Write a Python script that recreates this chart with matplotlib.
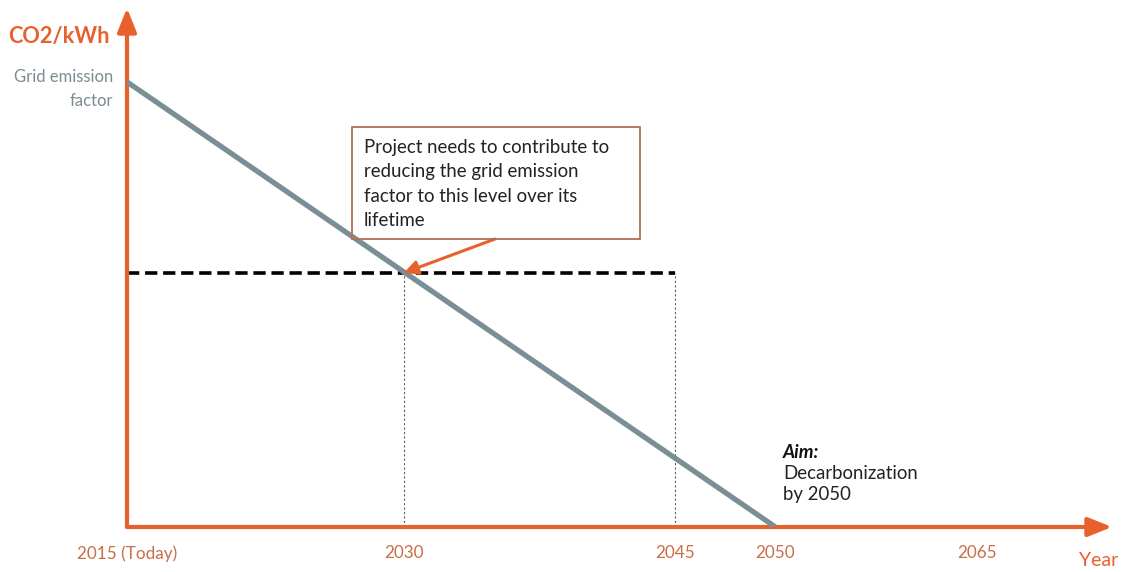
import numpy as np
import matplotlib.pyplot as plt

plt.rcParams['font.family'] = ['Lato', 'DejaVu Sans']

# schematic emission path: full grid factor today, zero at the decarbonization target
years = [2015, 2050]
emission = [1.0, 0.0]
lifetime_start = 2030
lifetime_end = 2045
target_level = 0.571

tick_years = [2015, 2030, 2045, 2050, 2065]
tick_labels = ["2015 (Today)", "2030", "2045", "2050", "2065"]

ORANGE = '#E8602C'
TICK_ORANGE = '#C96E48'
GREY_LINE = '#7A8E96'
GREY_TEXT = '#7C8B90'
BOX_EDGE = '#B36E56'

# the time axis is drawn freehand, compressed after 2050
knots_year = [2000, 2015, 2030, 2045, 2050, 2065, 2090]
knots_pos = [-15, 0, 14.94, 29.6, 35, 45.9, 64.07]


def forward(y):
    return np.interp(y, knots_year, knots_pos)


def inverse(p):
    return np.interp(p, knots_pos, knots_year)


W, H = 1123, 572
fig = plt.figure(figsize=(W / 100, H / 100), dpi=100)
ax = fig.add_axes([127 / W, (H - 527) / H, (1112 - 127) / W, (527 - 8) / H])
ax.set_xscale('function', functions=(forward, inverse))
ax.set_xlim(2015, 2075)
ax.set_ylim(0, 1.166)
for s in ax.spines.values():
    s.set_visible(False)
ax.set_yticks([])
ax.set_xticks(tick_years)
ax.set_xticklabels(tick_labels, color=TICK_ORANGE, fontsize=12.3)
ax.tick_params(axis='x', length=0, pad=13)

# axes drawn as arrows
arrow = dict(arrowstyle='-|>,head_length=0.8,head_width=0.32', color=ORANGE,
             lw=3, mutation_scale=18, shrinkA=0, shrinkB=0)
ax.annotate('', xy=(2075, 0), xytext=(2015, 0), arrowprops=arrow, annotation_clip=False)
ax.annotate('', xy=(2015, 1.166), xytext=(2015, 0), arrowprops=arrow, annotation_clip=False)

# emission path
ax.plot(years, emission, color=GREY_LINE, lw=3.8, solid_capstyle='butt', zorder=3)

# lifetime level and guides
ax.plot([2015, lifetime_end], [target_level, target_level], color='black', lw=2.6,
        dashes=[3.4, 1.6], zorder=2)
for yr in (lifetime_start, lifetime_end):
    ax.plot([yr, yr], [0, target_level], color='#5E5E5E', lw=0.8,
            dashes=[2, 2], zorder=1)

# text box with pointer
box = plt.Rectangle((352, H - 239), 288, 112, transform=None, fill=False,
                    edgecolor=BOX_EDGE, lw=1.3)
fig.patches.append(box)
fig.text(364 / W, (H - 184) / H,
         "Project needs to contribute to\nreducing the grid emission\nfactor to this level over its\nlifetime",
         ha='left', va='center', fontsize=13.4, color='#222222', linespacing=1.5)
ax.annotate('', xy=(lifetime_start, target_level), xytext=(495, H - 239),
            textcoords='figure pixels',
            arrowprops=dict(arrowstyle='-|>,head_length=0.6,head_width=0.3',
                            color=ORANGE, lw=2.2, mutation_scale=14,
                            shrinkA=0, shrinkB=0))

# axis labels
fig.text(8 / W, (H - 36) / H, "CO2/kWh", ha='left', va='center', fontsize=15.6,
         fontweight='bold', color=ORANGE)
fig.text(113 / W, (H - 89) / H, "Grid emission\nfactor", ha='right', va='center',
         fontsize=12, color=GREY_TEXT, linespacing=1.65)
fig.text(1079 / W, (H - 560) / H, "Year", ha='left', va='center', fontsize=14,
         color=ORANGE)

# target note
fig.text(783 / W, (H - 452) / H, "Aim:", ha='left', va='center', fontsize=13.4,
         fontweight='bold', fontstyle='italic', color='#111111')
fig.text(783 / W, (H - 484) / H, "Decarbonization\nby 2050", ha='left', va='center',
         fontsize=13.4, color='#222222', linespacing=1.3)

fig.savefig('out.png', dpi=100)
